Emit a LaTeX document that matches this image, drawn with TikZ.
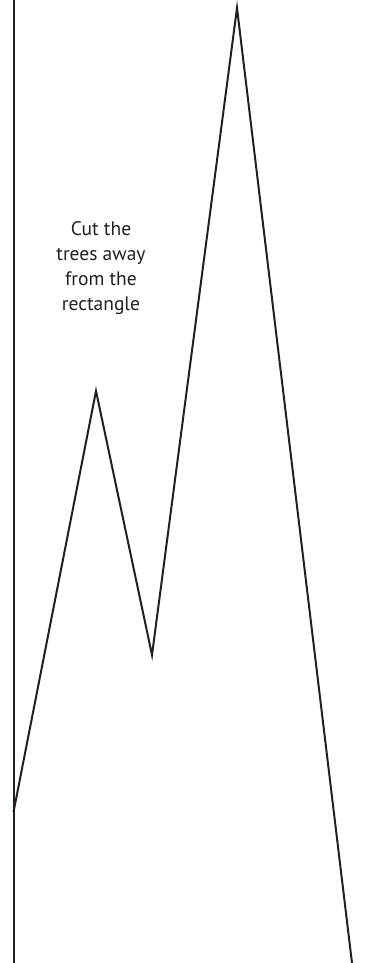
\documentclass[tikz,border=0pt]{standalone}
\usepackage{fontspec}
\setmainfont{PT Sans}
\definecolor{ink}{HTML}{231F20}
\begin{document}
\begin{tikzpicture}[x=1pt,y=-1pt,
  edge/.style={draw=ink,line width=2pt,line join=miter},
  label/.style={align=center,font=\fontsize{19.5}{25}\selectfont,text=ink,inner sep=0pt}]
\useasboundingbox (0,0) rectangle (364,963);
\coordinate (vtop) at (13.5,0);
\coordinate (vbot) at (13.5,963);
\coordinate (p0) at (13.5,812);
\coordinate (p1) at (96,391);
\coordinate (p2) at (152,655);
\coordinate (p3) at (237,8);
\coordinate (p4) at (352,963);
\draw[edge] (vtop) -- (vbot);
\draw[edge] (p0) -- (p1) -- (p2) -- (p3) -- (p4);
\node[label] (txt) at (101,268) {Cut the\\trees away\\from the\\rectangle};
\end{tikzpicture}
\end{document}
